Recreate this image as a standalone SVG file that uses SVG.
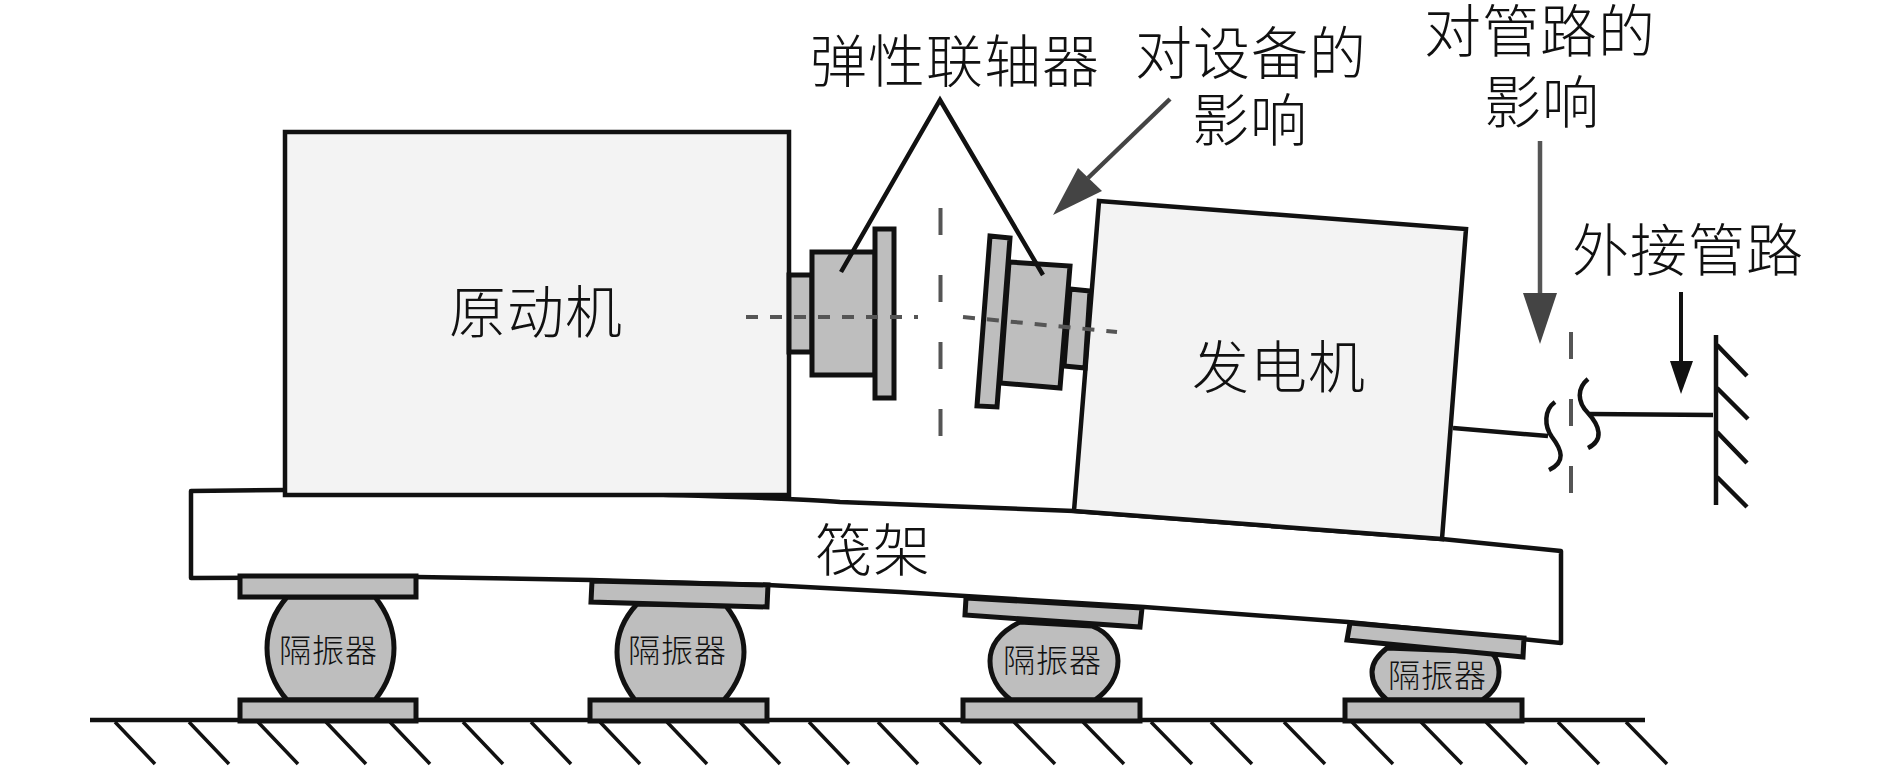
<svg xmlns="http://www.w3.org/2000/svg" width="1890" height="775" viewBox="0 0 1890 775">
<style>
.b{fill:#f3f3f3;stroke:#111;stroke-width:4.500}
.g{fill:#bebebe;stroke:#111;stroke-width:5}
.r{fill:#fff;stroke:#111;stroke-width:4.500;stroke-linejoin:round}
.l{fill:none;stroke:#111;stroke-width:4.500}
.h{fill:none;stroke:#111;stroke-width:3.500}
.d{fill:none;stroke:#555;stroke-width:4}
.dh{stroke-dasharray:12 12}
.dv{stroke-dasharray:27 40}
.t{font-family:"Noto Sans CJK SC","Noto Sans",sans-serif;fill:#111;font-size:57px;letter-spacing:1px;font-weight:300}
.s{font-size:32px;letter-spacing:1px}
</style>
<rect width="1890" height="775" fill="#fff"/>
<g id="ground">
<path class="l" d="M90,720H1645"/>
<path class="h" d="M115,722l40,42M189,722l40,42M258,722l40,42M326,722l40,42M390,722l40,42M463,722l40,42M531,722l40,42M600,722l40,42M667,722l40,42M740,722l40,42M809,722l40,42M878,722l40,42M940,722l41,42M1014,722l41,42M1083,722l41,42M1151,722l41,42M1211,722l41,42M1284,722l41,42M1352,722l41,42M1421,722l41,42M1486,722l41,42M1558,722l41,42M1626,722l41,42"/>
</g>
<g id="raft">
<path class="r" d="M191,491L285,490L640,494C700,496 790,498 840,502L1074,511L1442,539L1561,551V643L1348,622L1144,607L900,592L768,585L591,580L417,577L191,578Z"/>
<text class="t" x="815" y="571">筏架</text>
</g>
<g id="engine">
<rect class="b" x="285" y="132" width="504" height="363"/>
<text class="t" x="449" y="333">原动机</text>
</g>
<g id="generator">
<path class="b" d="M1099,201L1466,229L1442,539L1074,511Z"/>
<text class="t" x="1192" y="388">发电机</text>
</g>
<g id="coupling-left">
<rect class="g" x="789" y="275" width="23" height="77"/>
<rect class="g" x="812" y="252" width="63" height="123"/>
<rect class="g" x="875" y="229" width="19" height="169"/>
</g>
<g id="coupling-right">
<path class="g" d="M1070,289L1090,291L1085,368L1064,366Z"/>
<path class="g" d="M1009,262L1070,266L1060,388L1000,383Z"/>
<path class="g" d="M990,236L1010,238L997,407L977,406Z"/>
</g>
<g id="isolator-1">
<path class="g" d="M287,597C274,612 267,630 267,648C267,667 274,685 287,700H375C387,685 394,667 394,648C394,630 387,612 375,597Z"/>
<rect class="g" x="240" y="576" width="176" height="21"/>
<rect class="g" x="240" y="700" width="176" height="21"/>
<text class="t s" x="279" y="662">隔振器</text>
</g>
<g id="isolator-2">
<path class="g" d="M637,604C624,618 617,635 617,652C617,670 624,686 635,700H724C736,686 744,670 744,652C744,635 737,620 726,606Z"/>
<path class="g" d="M592,581L768,585L767,607L591,602Z"/>
<rect class="g" x="590" y="700" width="177" height="21"/>
<text class="t s" x="628" y="662">隔振器</text>
</g>
<g id="isolator-3">
<path class="g" d="M1020,622C1000,632 990,646 990,661C990,676 998,690 1011,700H1095C1109,690 1118,676 1118,661C1118,646 1108,632 1092,626Z"/>
<path class="g" d="M966,598L1142,608L1140,627L965,615Z"/>
<rect class="g" x="963" y="700" width="177" height="21"/>
<text class="t s" x="1003" y="672">隔振器</text>
</g>
<g id="isolator-4">
<path class="g" d="M1387,648C1378,655 1372,663 1372,672C1372,683 1379,693 1387,700H1482C1493,693 1499,683 1499,672C1499,664 1496,657 1491,652Z"/>
<path class="g" d="M1350,623L1524,638L1523,657L1347,640Z"/>
<rect class="g" x="1345" y="700" width="177" height="21"/>
<text class="t s" x="1388" y="687">隔振器</text>
</g>
<g id="connectors">
<path class="d dh" d="M746,317H918"/>
<path class="d dh" d="M963,317L1117,332"/>
<path class="d dv" d="M940.500,208V437"/>
<path class="d dv" d="M1571,332V493"/>
<path class="l" d="M841,272L940,100L1043,275"/>
<path d="M1170,99L1088,178" fill="none" stroke="#444" stroke-width="4.500"/>
<path d="M1053,215L1078,168L1102,191Z" fill="#444"/>
<path d="M1540,141V293" fill="none" stroke="#555" stroke-width="4.500"/>
<path d="M1523,293H1557L1540,344Z" fill="#444"/>
<path d="M1681,292V362" fill="none" stroke="#111" stroke-width="4"/>
<path d="M1670,361H1693L1681,394Z" fill="#111"/>
<path class="l" d="M1453,428L1548,436"/>
<path class="l" d="M1590,414L1713,415"/>
<path class="l" d="M1555,402C1544,410 1544,426 1552,437C1562,450 1566,462 1549,470"/>
<path class="l" d="M1588,379C1577,388 1577,402 1588,413C1600,426 1604,440 1588,448"/>
</g>
<g id="wall">
<path class="l" d="M1716,335V505"/>
<path class="l" d="M1717,345l30,31M1717,388l31,31M1717,432l30,31M1717,477l30,30"/>
</g>
<g id="labels">
<text class="t" x="810" y="82">弹性联轴器</text>
<text class="t" x="1135" y="74">对设备的</text>
<text class="t" x="1192" y="141">影响</text>
<text class="t" x="1424" y="52">对管路的</text>
<text class="t" x="1484" y="123">影响</text>
<text class="t" x="1572" y="271">外接管路</text>
</g>
</svg>
